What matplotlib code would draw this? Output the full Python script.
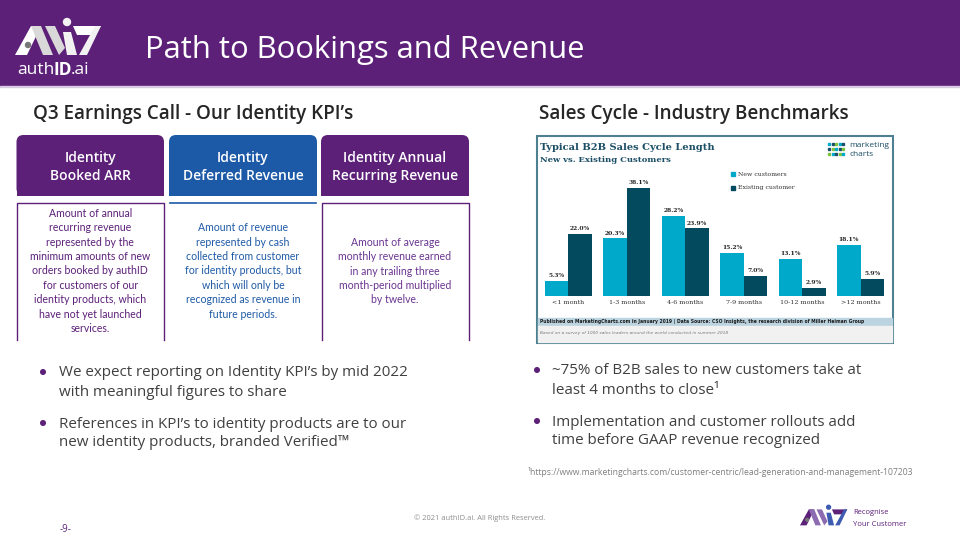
import matplotlib.pyplot as plt
from matplotlib.patches import Rectangle, FancyBboxPatch, Polygon, Circle
import numpy as np

# bar chart data (MarketingCharts image)
cycle_labels = ["<1 month", "1-3 months", "4-6 months", "7-9 months", "10-12 months", ">12 months"]
new_customers = [5.3, 20.3, 28.2, 15.2, 13.1, 18.1]
existing_customers = [22.0, 38.1, 23.9, 7.0, 2.9, 5.9]

kpi_titles = [["Identity", "Booked ARR"],
              ["Identity", "Deferred Revenue"],
              ["Identity Annual", "Recurring Revenue"]]
kpi_texts = [["Amount of annual", "recurring revenue", "represented by the", "minimum amounts of new",
              "orders booked by authID", "for customers of our", "identity products, which",
              "have not yet launched", "services."],
             ["Amount of revenue", "represented by cash", "collected from customer",
              "for identity products, but", "which will only be", "recognized as revenue in",
              "future periods."],
             ["Amount of average", "monthly revenue earned", "in any trailing three",
              "month-period multiplied", "by twelve."]]

left_bullets = [["We expect reporting on Identity KPI\u2019s by mid 2022", "with meaningful figures to share"],
                ["References in KPI\u2019s to identity products are to our", "new identity products, branded Verified\u2122"]]
right_bullets = [["~75% of B2B sales to new customers take at", "least 4 months to close\u00b9"],
                 ["Implementation and customer rollouts add", "time before GAAP revenue recognized"]]

PURPLE = "#5c2079"
BLUE = "#1c5aa8"
TEAL = "#00a9c9"
DARK_TEAL = "#034a5f"
GREY = "#404040"
FONT = "Open Sans"

fig = plt.figure(figsize=(9.6, 5.4), dpi=100)
ax = fig.add_axes([0, 0, 1, 1])
ax.set_xlim(0, 960)
ax.set_ylim(540, 0)
ax.axis("off")

# header band
ax.add_patch(Rectangle((0, 0), 960, 86, color=PURPLE, zorder=1))
ax.add_patch(Rectangle((0, 86), 960, 1, color="#d9cce2", zorder=1))
ax.text(145, 50, "Path to Bookings and Revenue", color="white", fontsize=22.3,
        family=FONT, va="center", ha="left")


def logo(x0, y0, s, c1, c2, c3):
    # simple stylised authID mark
    shapes = [
        ([(0, 37), (16, 8), (26, 8), (12, 37)], c1),
        ([(16, 8), (26, 8), (38, 37), (28, 37)], c2),
        ([(30, 8), (40, 8), (50, 30), (44, 37)], c2),
        ([(48, 14), (56, 14), (62, 37), (52, 37)], c3),
        ([(58, 8), (86, 8), (80, 17), (62, 17)], c1),
        ([(80, 8), (86, 8), (72, 37), (64, 37)], c3),
    ]
    for pts, col in shapes:
        ax.add_patch(Polygon([(x0 + px * s, y0 + py * s) for px, py in pts],
                             closed=True, color=col, lw=0, zorder=3))
    ax.add_patch(Circle((x0 + 52 * s, y0 + 4 * s), 3.5 * s, color=c3, zorder=3))
    ax.add_patch(Circle((x0 + 13 * s, y0 + 27 * s), 2.5 * s, color="#777777", zorder=4))


logo(15, 18, 1.0, "white", "#d9d9d9", "#f2f2f2")

# "authID.ai" word mark, pieces placed one after the other
renderer = fig.canvas.get_renderer()
x = 17
for piece, weight in [("auth", "normal"), ("ID", "bold"), (".ai", "normal")]:
    t = ax.text(x, 70, piece, color="white", fontsize=12.5, family=FONT, fontweight=weight,
                va="center", ha="left")
    bb = t.get_window_extent(renderer)
    x += bb.width * 960 / fig.bbox.width - 1.2

# section titles
ax.text(33, 114, "Q3 Earnings Call - Our Identity KPI\u2019s", fontsize=13.6, family=FONT,
        fontweight="semibold", color="#262626", va="center")
ax.text(539, 114, "Sales Cycle - Industry Benchmarks", fontsize=13.6, family=FONT,
        fontweight="semibold", color="#262626", va="center")

# KPI boxes
box_x = [(16.5, 164), (169, 317), (321, 469)]
box_cols = [PURPLE, BLUE, PURPLE]
text_cols = ["#5c2079", "#1f5aa6", "#6a3590"]
text_start = [213.3, 227.7, 242.3]
for i, ((xa, xb), col) in enumerate(zip(box_x, box_cols)):
    ax.add_patch(FancyBboxPatch((xa, 135), xb - xa, 60.5, boxstyle="round,pad=0,rounding_size=7",
                                color=col, lw=0, zorder=2))
    ax.add_patch(Rectangle((xa, 170), xb - xa, 25.5, color=col, lw=0, zorder=2))
    cx = (xa + xb) / 2
    ax.text(cx, 158.3, kpi_titles[i][0], color="white", fontsize=10, family=FONT,
            fontweight="semibold", ha="center", va="center", zorder=3)
    ax.text(cx, 175.7, kpi_titles[i][1], color="white", fontsize=10, family=FONT,
            fontweight="semibold", ha="center", va="center", zorder=3)
    if i == 1:
        ax.plot([xa + 1, xb - 1], [203, 203], color=BLUE, lw=1.2)
    else:
        ax.plot([xa + 0.5, xa + 0.5, xb - 0.5, xb - 0.5], [340, 203, 203, 340], color=col, lw=1.0)
    for j, line in enumerate(kpi_texts[i]):
        ax.text(cx, text_start[i] + j * 14.4, line, color=text_cols[i], fontsize=7.6,
                family="Lato", ha="center", va="center")

# bullets
for bx, tx, ys, items in [(43, 59, [373, 424], left_bullets), (537, 552, [371, 422], right_bullets)]:
    for y, lines in zip(ys, items):
        ax.add_patch(Circle((bx, y - 1), 2.3, color=PURPLE, zorder=3))
        for k, line in enumerate(lines):
            ax.text(tx, y + k * 19, line, fontsize=10.9, family=FONT, color=GREY, va="center")

ax.text(528, 472, "\u00b9https://www.marketingcharts.com/customer-centric/lead-generation-and-management-107203",
        fontsize=6.2, family=FONT, color="#7f7f7f", va="center")
ax.text(480, 518, "\u00a9 2021 authID.ai. All Rights Reserved.", fontsize=5.4, family=FONT,
        color="#8c8c8c", ha="center", va="center")
ax.text(60, 530, "-9-", fontsize=7, family=FONT, color=PURPLE, ha="left", va="center")

logo(800, 505, 0.55, "#5c2079", "#8d6bb0", "#3d5bb0")
ax.text(853, 513, "Recognise", fontsize=5.5, family=FONT, color=PURPLE, va="center")
ax.text(853, 524, "Your Customer", fontsize=5.5, family=FONT, color=PURPLE, va="center")

# embedded MarketingCharts graphic
ax.add_patch(Rectangle((537, 135.5), 356, 207, facecolor="white", edgecolor="#4d8191", lw=1.5, zorder=1))
ax.add_patch(Rectangle((538, 318), 354, 7.5, color="#bcd4e0", zorder=2))
ax.add_patch(Rectangle((538, 325.5), 354, 16.5, color="#f1f1f1", zorder=2))
ax.text(540, 321.8, "Published on MarketingCharts.com in January 2019 | Data Source: CSO Insights, "
        "the research division of Miller Heiman Group", fontsize=3.25, family="DejaVu Sans",
        fontweight="bold", color="#1a1a1a", va="center", zorder=3)
ax.text(540, 333, "Based on a survey of 1000 sales leaders around the world conducted in summer 2018",
        fontsize=3.2, family="DejaVu Sans", style="italic", color="#7a7a7a", va="center", zorder=3)
ax.text(540, 147, "Typical B2B Sales Cycle Length", fontsize=7.1, family="DejaVu Serif",
        fontweight="bold", color="#1c4f66", va="center", zorder=3)
ax.text(540, 160, "New vs. Existing Customers", fontsize=6.0, family="DejaVu Serif",
        fontweight="bold", color="#1c4f66", va="center", zorder=3)
for r in range(3):
    for c in range(5):
        ax.add_patch(Rectangle((828 + c * 3.6, 143 + r * 5), 2, 2,
                               color=["#00a9c9", "#1c4f66", "#7dc242"][(r + c) % 3], zorder=3))
ax.text(849, 145.5, "marketing", fontsize=6, family=FONT, color="#1c4f66", va="center", zorder=3)
ax.text(849, 154.5, "charts", fontsize=6, family=FONT, color="#1c4f66", va="center", zorder=3)
ax.add_patch(Rectangle((730.5, 172), 4, 4, color=TEAL, zorder=3))
ax.add_patch(Rectangle((730.5, 186), 4, 4, color=DARK_TEAL, zorder=3))
ax.text(738, 174, "New customers", fontsize=4.5, family="DejaVu Serif", color="#333333", va="center", zorder=3)
ax.text(738, 188, "Existing customer", fontsize=4.5, family="DejaVu Serif", color="#333333", va="center", zorder=3)

# bar axes: baseline y=295.7 px, 2.82 px per percent
bx = fig.add_axes([545 / 960, 1 - 295.7 / 540, 339 / 960, 40 * 2.82 / 540])
bx.patch.set_alpha(0)
pos = np.arange(len(cycle_labels))
b1 = bx.bar(pos - 0.2, new_customers, 0.4, color=TEAL)
b2 = bx.bar(pos + 0.2, existing_customers, 0.4, color=DARK_TEAL)
for bars in (b1, b2):
    bx.bar_label(bars, labels=[f"{v:.1f}%" for v in bars.datavalues], padding=2,
                 fontsize=4.3, family="DejaVu Serif", fontweight="bold", color="#222222")
bx.set_xlim(-0.4, 5.4)
bx.set_ylim(0, 40)
bx.set_yticks([])
bx.set_xticks(pos)
bx.set_xticklabels(cycle_labels, fontsize=4.6, family="DejaVu Serif", color="#333333")
bx.tick_params(axis="x", length=0, pad=3)
for sp in bx.spines.values():
    sp.set_visible(False)

fig.savefig("out.png", dpi=100)
